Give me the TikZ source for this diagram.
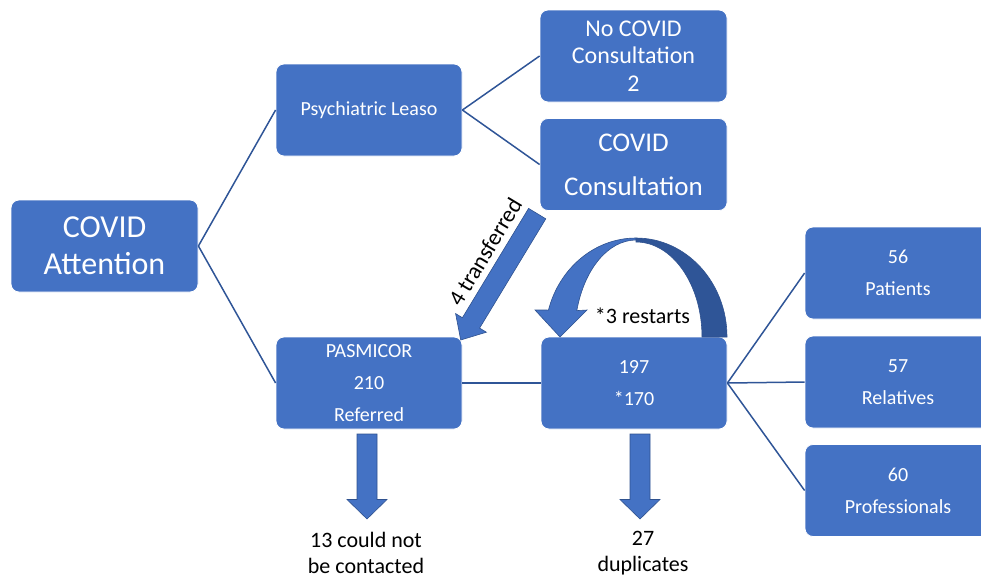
\documentclass[tikz,border=0pt]{standalone}
\usepackage{fontspec}
\setmainfont{Carlito}
\definecolor{boxblue}{HTML}{4472C4}
\definecolor{lineblue}{HTML}{2F5597}
\definecolor{darkblue}{HTML}{2F5597}
\definecolor{edgeblue}{HTML}{2F528F}
\begin{document}
\begin{tikzpicture}[x=1pt,y=-1pt,
  box/.style={rectangle, rounded corners=8pt, fill=boxblue, draw=white, line width=0.8pt,
    text=white, minimum width=186pt, minimum height=92pt, inner sep=0pt, align=center},
  conn/.style={draw=lineblue, line width=1.5pt},
  blockarrow/.style={fill=boxblue, draw=edgeblue, line width=0.6pt, line join=miter},
  lbl/.style={text=black, align=center, inner sep=0pt}]
\useasboundingbox (0,0) rectangle (981,576);
\clip (0,0) rectangle (981,576);

% boxes
\node[box, minimum width=187pt, font=\fontsize{32}{37}\selectfont] (ca) at (104.5,246) {COVID\\Attention};
\node[box, font=\fontsize{20}{24}\selectfont] (pl) at (369,110) {Psychiatric Leaso};
\node[box, minimum width=187pt, font=\fontsize{24}{27.5}\selectfont] (nc) at (633.5,56) {No COVID\\Consultation\\2};
\node[box, minimum width=187pt, font=\fontsize{27}{44}\selectfont] (cc) at (633.5,164.5) {COVID\\Consultation};
\node[box, font=\fontsize{20}{32}\selectfont] (pm) at (369,383) {PASMICOR\\210\\Referred};
\node[box, font=\fontsize{20}{32}\selectfont] (ns) at (634,383) {197\\*170};
\node[box, font=\fontsize{20}{32}\selectfont] (pat) at (898,273) {56\\Patients};
\node[box, font=\fontsize{20}{32}\selectfont] (rel) at (898,382) {57\\Relatives};
\node[box, font=\fontsize{20}{32}\selectfont] (prof) at (898,490.5) {60\\Professionals};

% connectors
\draw[conn] (ca.east) -- (pl.west);
\draw[conn] (ca.east) -- (pm.west);
\draw[conn] (pl.east) -- (nc.west);
\draw[conn] (pl.east) -- (cc.west);
\draw[conn] (pm.east) -- (ns.west);
\draw[conn] (ns.east) -- (pat.west);
\draw[conn] (ns.east) -- (rel.west);
\draw[conn] (ns.east) -- (prof.west);

% transferred block arrow
\draw[blockarrow] (545.8,218.8) -- (479.6,328.1) -- (486.4,332.2) -- (460.7,340)
  -- (455.6,313.6) -- (462.4,317.7) -- (528.6,208.4) -- cycle;
\node[lbl, rotate=59, font=\fontsize{23}{27}\selectfont] (tr) at (485,252) {4 transferred};

% curved arrow (restarts)
\draw[fill=darkblue, draw=edgeblue, line width=0.6pt] (727,337)
  arc[start angle=0, end angle=90, x radius=91pt, y radius=99pt]
  -- (636,242)
  arc[start angle=90, end angle=0, x radius=66pt, y radius=95pt]
  -- cycle;
\draw[blockarrow] (636,238)
  arc[start angle=90, end angle=164.2, x radius=91pt, y radius=99pt]
  -- (535,310) -- (560,337) -- (587,310) -- (576.8,310.6)
  arc[start angle=164.2, end angle=90, x radius=61.5pt, y radius=97pt]
  -- cycle;
\node[lbl, font=\fontsize{22}{26}\selectfont] (rs) at (642.5,316) {*3 restarts};

% down arrows
\draw[blockarrow] (357,434) -- (377,434) -- (377,499.5) -- (387,499.5) -- (367,519)
  -- (347,499.5) -- (357,499.5) -- cycle;
\draw[blockarrow] (630,434) -- (650,434) -- (650,499.5) -- (660,499.5) -- (640,519)
  -- (620,499.5) -- (630,499.5) -- cycle;

\node[lbl, font=\fontsize{22}{26}\selectfont] (nocontact) at (366,553) {13 could not\\be contacted};
\node[lbl, font=\fontsize{22}{26}\selectfont] (dup) at (643,553) {27\\duplicates};
\end{tikzpicture}
\end{document}
